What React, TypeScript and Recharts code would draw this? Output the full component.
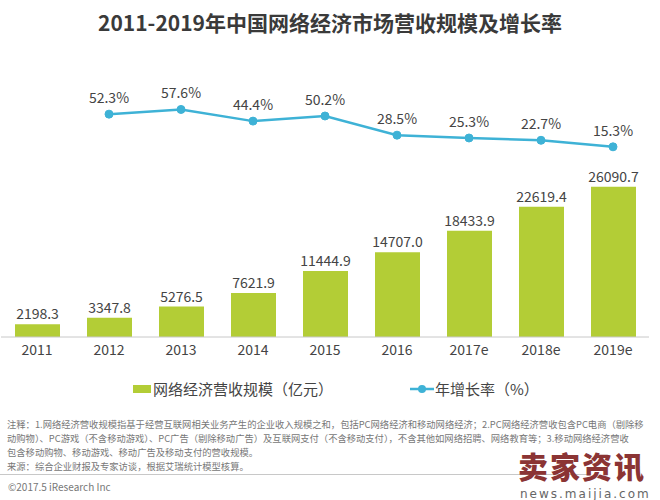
import React from "react";
import { ComposedChart, Bar, Line, XAxis, YAxis, LabelList } from "recharts";

const years = ["2011", "2012", "2013", "2014", "2015", "2016", "2017e", "2018e", "2019e"];
const revenue = [2198.3, 3347.8, 5276.5, 7621.9, 11444.9, 14707.0, 18433.9, 22619.4, 26090.7];
const growth = [null, 52.3, 57.6, 44.4, 50.2, 28.5, 25.3, 22.7, 15.3];

const notes = [
  "注释：1.网络经济营收规模指基于经营互联网相关业务产生的企业收入规模之和，包括PC网络经济和移动网络经济；2.PC网络经济营收包含PC电商（剔除移",
  "动购物）、PC游戏（不含移动游戏）、PC广告（剔除移动广告）及互联网支付（不含移动支付），不含其他如网络招聘、网络教育等；3.移动网络经济营收",
  "包含移动购物、移动游戏、移动广告及移动支付的营收规模。",
  "来源：综合企业财报及专家访谈，根据艾瑞统计模型核算。",
];

const GREEN = "#b3cd36";
const BLUE = "#3eb2d6";
const TEXT = "#444";
const FONT = '"Noto Sans CJK SC", "Noto Sans", sans-serif';

const data = years.map((year, i) => ({
  year,
  revenue: revenue[i],
  growth: growth[i],
}));

export default function App() {
  return (
    <div
      style={{
        position: "absolute",
        left: 0,
        top: 0,
        width: 660,
        height: 500,
        background: "#fff",
        fontFamily: FONT,
        overflow: "hidden",
      }}
    >
      <div
        style={{
          position: "absolute",
          top: 8,
          left: 0,
          width: 660,
          textAlign: "center",
          fontSize: 21,
          fontWeight: 700,
          color: "#3a3a3a",
          lineHeight: "28px",
        }}
      >
        2011-2019年中国网络经济市场营收规模及增长率
      </div>

      <div style={{ position: "absolute", left: 0, top: 0 }}>
        <ComposedChart
          width={660}
          height={370}
          data={data}
          margin={{ top: 72, right: 11, left: 1, bottom: 3 }}
        >
          <XAxis
            dataKey="year"
            tickLine={false}
            axisLine={{ stroke: "#c8c8c8" }}
            tick={{ fill: TEXT, fontSize: 14, fontFamily: FONT }}
            height={30}
            interval={0}
          />
          <YAxis yAxisId="left" hide domain={[0, 46000]} />
          <YAxis yAxisId="right" orientation="right" hide domain={[-200, 100]} />
          <Bar yAxisId="left" dataKey="revenue" fill={GREEN} barSize={45} isAnimationActive={false}>
            <LabelList
              dataKey="revenue"
              position="top"
              offset={5}
              formatter={(v: any) => Number(v).toFixed(1)}
              style={{ fill: TEXT, fontSize: 14, fontFamily: FONT }}
            />
          </Bar>
          <Line
            yAxisId="right"
            dataKey="growth"
            stroke={BLUE}
            strokeWidth={2.5}
            dot={{ r: 4, fill: BLUE, stroke: BLUE, strokeWidth: 1 }}
            isAnimationActive={false}
          >
            <LabelList
              dataKey="growth"
              position="top"
              offset={11}
              formatter={(v: any) => (v == null ? "" : `${Number(v).toFixed(1)}%`)}
              style={{ fill: TEXT, fontSize: 14, fontFamily: FONT }}
            />
          </Line>
        </ComposedChart>
      </div>

      {/* legend */}
      <div
        style={{
          position: "absolute",
          top: 379,
          left: 0,
          width: 660,
          height: 20,
          fontSize: 15,
          color: TEXT,
        }}
      >
        <div style={{ position: "absolute", left: 133, top: 6, width: 18, height: 8, background: GREEN }} />
        <div style={{ position: "absolute", left: 153, top: 0, lineHeight: "20px", whiteSpace: "nowrap" }}>
          网络经济营收规模（亿元）
        </div>
        <svg style={{ position: "absolute", left: 410, top: 4 }} width={24} height={12}>
          <line x1={0} y1={6} x2={24} y2={6} stroke={BLUE} strokeWidth={2.5} />
          <circle cx={12} cy={6} r={4} fill={BLUE} />
        </svg>
        <div style={{ position: "absolute", left: 435, top: 0, lineHeight: "20px", whiteSpace: "nowrap" }}>
          年增长率（%）
        </div>
      </div>

      {/* footnotes */}
      <div
        style={{
          position: "absolute",
          top: 417,
          left: 7,
          fontSize: 9.3,
          lineHeight: "14px",
          color: "#777",
        }}
      >
        {notes.map((line, i) => (
          <div key={i} style={{ whiteSpace: "nowrap" }}>
            {line}
          </div>
        ))}
      </div>

      <div style={{ position: "absolute", top: 474, left: 0, width: 590, height: 1, background: "#c8c8c8" }} />
      <div style={{ position: "absolute", top: 480, left: 8, fontSize: 10, color: "#777", lineHeight: "14px" }}>
        ©2017.5 iResearch Inc
      </div>

      {/* watermark */}
      <div
        style={{
          position: "absolute",
          top: 449,
          left: 518,
          fontSize: 30,
          fontWeight: 900,
          color: "#8b3434",
          lineHeight: "32px",
          letterSpacing: 2,
          whiteSpace: "nowrap",
        }}
      >
        卖家资讯
      </div>
      <div
        style={{
          position: "absolute",
          top: 488,
          left: 520,
          fontSize: 12,
          color: "#666",
          letterSpacing: 2,
          lineHeight: "12px",
          fontFamily: '"DejaVu Sans", sans-serif',
          whiteSpace: "nowrap",
        }}
      >
        news.maijia.com
      </div>
    </div>
  );
}
